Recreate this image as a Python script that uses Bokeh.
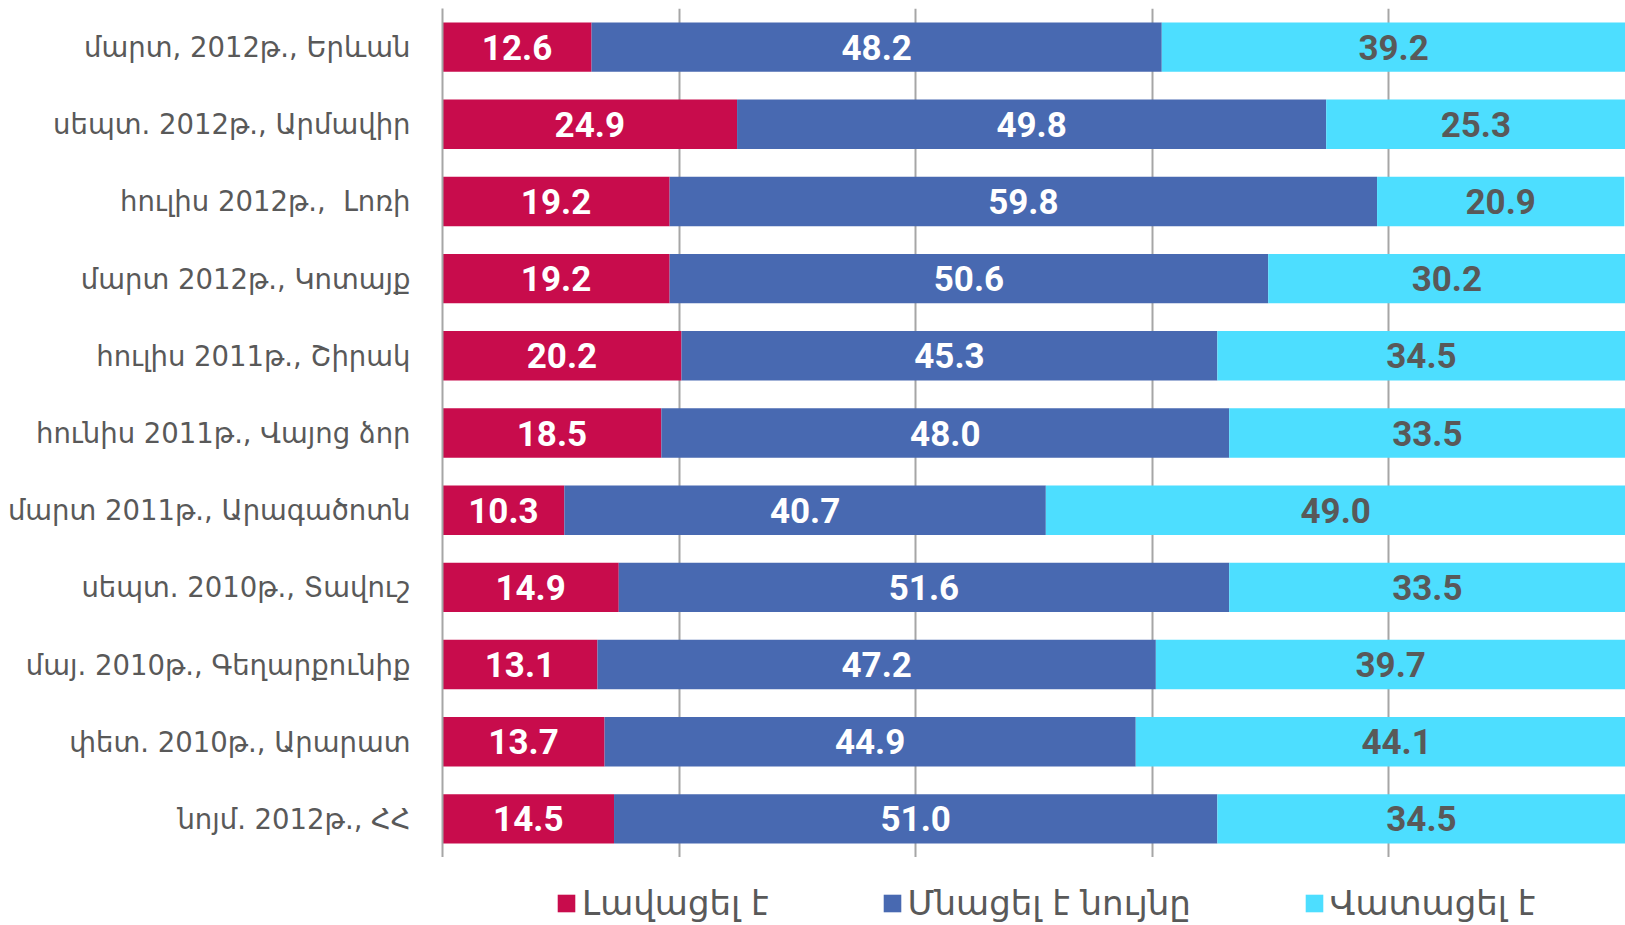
import numpy as np
from bokeh.plotting import figure
from bokeh.layouts import column
from bokeh.models import ColumnDataSource, FactorRange, Range1d, Legend, LegendItem, FixedTicker, Grid
from bokeh.core.properties import value
from bokeh.embed import file_html
from bokeh.resources import INLINE

categories = [
    "մարտ, 2012թ., Երևան",
    "սեպտ. 2012թ., Արմավիր",
    "հուլիս 2012թ., \u00a0Լոռի",
    "մարտ 2012թ., Կոտայք",
    "հուլիս 2011թ., Շիրակ",
    "հունիս 2011թ., Վայոց ձոր",
    "մարտ 2011թ., Արագածոտն",
    "սեպտ. 2010թ., Տավուշ",
    "մայ. 2010թ., Գեղարքունիք",
    "փետ. 2010թ., Արարատ",
    "նոյմ. 2012թ., ՀՀ",
]
improved = [12.6, 24.9, 19.2, 19.2, 20.2, 18.5, 10.3, 14.9, 13.1, 13.7, 14.5]
same = [48.2, 49.8, 59.8, 50.6, 45.3, 48.0, 40.7, 51.6, 47.2, 44.9, 51.0]
worse = [39.2, 25.3, 20.9, 30.2, 34.5, 33.5, 49.0, 33.5, 39.7, 44.1, 34.5]
series_names = ["Լավացել է", "Մնացել է նույնը", "Վատացել է"]
colors = ["#C80C4C", "#4869B1", "#4DDEFF"]
label_colors = ["#FFFFFF", "#FFFFFF", "#595959"]
grid_ticks = [0, 20, 40, 60, 80, 100]

vals = np.array([improved, same, worse])
rights = np.cumsum(vals, axis=0)
lefts = rights - vals

data = {"cat": categories}
for i in range(3):
    data[f"l{i}"] = lefts[i]
    data[f"r{i}"] = rights[i]
    data[f"c{i}"] = (lefts[i] + rights[i]) / 2
    data[f"t{i}"] = [f"{v:.1f}" for v in vals[i]]
src = ColumnDataSource(data)

p = figure(frame_width=1183, frame_height=849,
           y_range=FactorRange(*reversed(categories)),
           x_range=Range1d(0, 100),
           output_backend="svg", toolbar_location=None,
           x_axis_location=None,
           min_border_left=442, min_border_right=0,
           min_border_top=8, min_border_bottom=0)
p.outline_line_color = None
p.ygrid.grid_line_color = None
p.xgrid.grid_line_color = None
grid = Grid(dimension=0, ticker=FixedTicker(ticks=grid_ticks),
            grid_line_color="#A6A6A6", grid_line_width=2)
p.add_layout(grid)

ax = p.yaxis[0]
ax.axis_line_color = "#A6A6A6"
ax.axis_line_width = 2
ax.major_tick_line_color = None
ax.major_tick_out = 0
ax.major_tick_in = 0
ax.minor_tick_line_color = None
ax.major_label_standoff = 32
ax.major_label_text_font = "DejaVu Sans"
ax.major_label_text_font_size = "27.5px"
ax.major_label_text_color = "#595959"

for i in range(3):
    p.hbar(y="cat", left=f"l{i}", right=f"r{i}", height=0.64,
           fill_color=colors[i], line_color=None, source=src)
    p.text(x=f"c{i}", y="cat", text=f"t{i}", source=src,
           text_align="center", text_baseline="middle",
           text_font=value("Roboto"), text_font_style="bold",
           text_font_size="35px", text_color=label_colors[i])

# legend strip below the chart (same series drawn off-screen so the legend has glyphs)
p2 = figure(width=1625, height=68, x_range=Range1d(0, 100), y_range=Range1d(0, 1),
            output_backend="svg", toolbar_location=None,
            x_axis_location=None, y_axis_location=None, min_border=0)
p2.outline_line_color = None
p2.xgrid.visible = False
p2.ygrid.visible = False
leg_renderers = []
for i in range(3):
    r = p2.hbar(y=-10, left=f"l{i}", right=f"r{i}", height=0.5,
                fill_color=colors[i], line_color=None, source=src)
    leg_renderers.append(r)

legend = Legend(items=[LegendItem(label=series_names[i], renderers=[leg_renderers[i]]) for i in range(3)],
                orientation="horizontal", location=(113, 2),
                spacing=112, glyph_width=22, glyph_height=22, label_standoff=5,
                label_text_font="DejaVu Sans", label_text_font_size="34px",
                label_text_color="#595959", border_line_color=None,
                background_fill_alpha=0, padding=0, margin=0)
p2.add_layout(legend, "center")

layout = column(p, p2, spacing=0)
open("out.html", "w").write(file_html(layout, INLINE))
